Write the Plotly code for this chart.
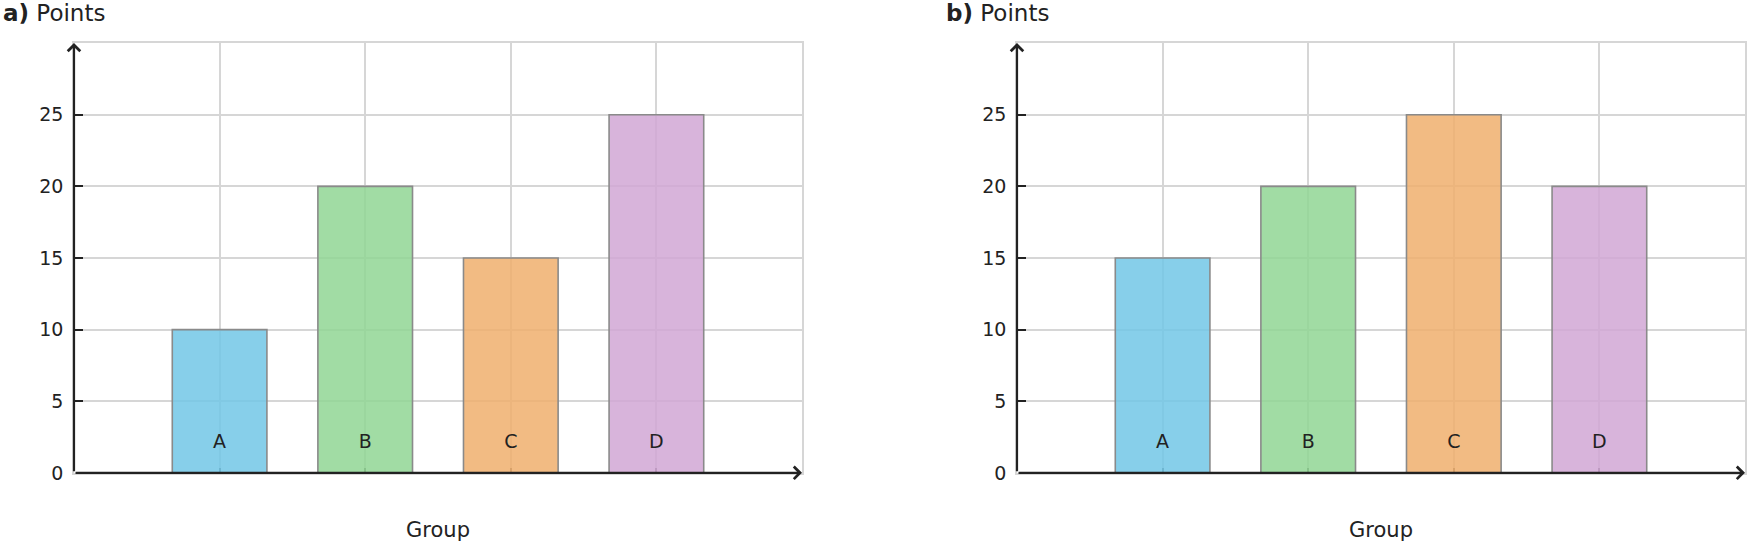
import plotly.graph_objects as go

groups = ["A", "B", "C", "D"]
points_a = [10, 20, 15, 25]
points_b = [15, 20, 25, 20]
y_ticks = [0, 5, 10, 15, 20, 25]

FONT = "DejaVu Sans"
INK = "#222222"
GRID = "#d6d6d6"
EDGE = "#8a8a8a"
BAR_COLORS = [
    "rgba(114,199,230,0.85)",
    "rgba(144,214,148,0.85)",
    "rgba(240,175,109,0.85)",
    "rgba(209,167,213,0.85)",
]
LABEL_Y = 2.1

W = 1750
H = 560          # the captured page comes out a little taller than the window
REF_H = 548
sy = H / REF_H


def py(px):
    # vertical pixel position (measured on a 548-high picture) -> paper fraction
    return 1 - px * sy / H


fig = go.Figure()

panels = [("x", "y", points_a, "a)"), ("x2", "y2", points_b, "b)")]

for xa, ya, vals, tag in panels:
    fig.add_trace(go.Bar(
        x=groups,
        y=vals,
        width=0.65,
        marker=dict(color=BAR_COLORS, line=dict(color=EDGE, width=1.6)),
        xaxis=xa,
        yaxis=ya,
        showlegend=False,
        hoverinfo="skip",
    ))
    fig.add_trace(go.Scatter(
        x=groups,
        y=[LABEL_Y] * len(groups),
        mode="text",
        text=groups,
        textfont=dict(family=FONT, size=19, color=INK),
        xaxis=xa,
        yaxis=ya,
        showlegend=False,
        hoverinfo="skip",
    ))

    # axis arrows
    xr = xa + " domain"
    yr = ya + " domain"
    for hx, hy in [(1, 0), (0, 1)]:
        fig.add_annotation(
            xref=xr, yref=yr, axref=xr, ayref=yr,
            x=hx, y=hy, ax=0, ay=0,
            showarrow=True, arrowhead=4, arrowsize=1.1, arrowwidth=2.2,
            arrowcolor=INK, text="",
        )

    # panel title
    fig.add_annotation(
        xref=xr, yref="paper",
        x=0, xshift=-73, y=py(13),
        xanchor="left", yanchor="middle",
        text=f"<b>{tag}</b> Points",
        showarrow=False,
        font=dict(family=FONT, size=23, color=INK),
    )

x_common = dict(
    type="category",
    range=[-1, 4],
    showgrid=True, gridcolor=GRID, gridwidth=1.5,
    showline=True, linecolor=GRID, linewidth=1.5, mirror=True,
    ticks="inside", ticklen=5, tickwidth=1.5, tickcolor="#555",
    showticklabels=False,
    zeroline=False,
    layer="below traces",
    title=dict(text="Group", font=dict(family=FONT, size=21, color=INK), standoff=int(48 * sy)),
)
y_common = dict(
    range=[0, 30],
    tickvals=y_ticks,
    showgrid=True, gridcolor=GRID, gridwidth=1.5,
    showline=True, linecolor=GRID, linewidth=1.5, mirror=True,
    ticks="inside", ticklen=9, tickwidth=2, tickcolor=INK,
    tickfont=dict(family=FONT, size=19, color=INK),
    ticklabelstandoff=5,
    zeroline=False,
    layer="below traces",
)

fig.update_layout(
    width=W,
    height=H,
    plot_bgcolor="white",
    paper_bgcolor="white",
    font=dict(family=FONT, color=INK),
    margin=dict(l=0, r=0, t=0, b=0),
    xaxis=dict(domain=[74 / W, 802 / W], anchor="y", **x_common),
    yaxis=dict(domain=[py(472), py(43)], anchor="x", **y_common),
    xaxis2=dict(domain=[1017 / W, 1745 / W], anchor="y2", **x_common),
    yaxis2=dict(domain=[py(472), py(43)], anchor="x2", **y_common),
    showlegend=False,
)

fig.write_html(
    "out.html",
    config={"displayModeBar": False},
    post_script="document.body.style.margin='0px';",
)
